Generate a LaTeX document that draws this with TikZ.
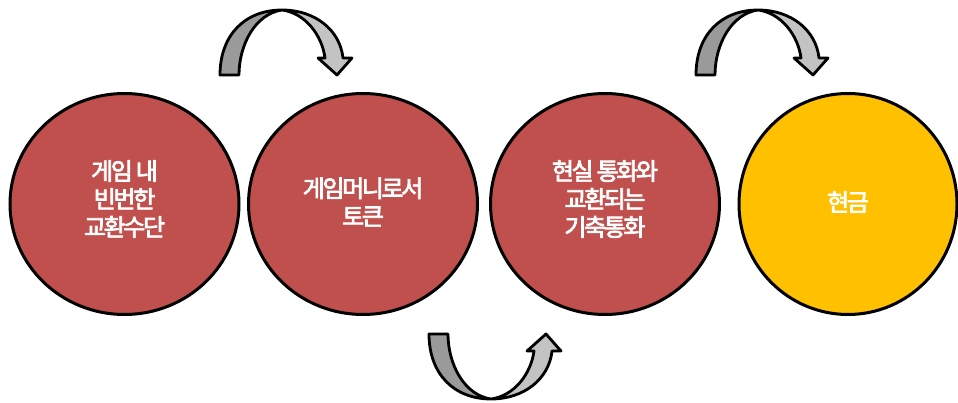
\documentclass[tikz,border=0pt]{standalone}
\usepackage{fontspec}
\usetikzlibrary{shapes.geometric}
\newfontfamily\kr[LetterSpace=-10,FakeBold=3]{Noto Sans CJK KR}
\definecolor{cred}{HTML}{C0504D}
\definecolor{cyel}{HTML}{FFC000}
\definecolor{adark}{HTML}{9A9A9A}
\definecolor{alight}{HTML}{C3C3C3}
\begin{document}
\begin{tikzpicture}[x=1pt,y=-1pt,
  bub/.style={draw=black,line width=3pt,ellipse,minimum width=229pt,minimum height=221pt,inner sep=0pt},
  btxt/.style={text=white,font=\kr\fontsize{24}{28}\selectfont,align=center},
  arr/.style={draw=black,line width=2.8pt,line join=round}]
\useasboundingbox (0,0) rectangle (958,403);
\node[bub,fill=cred] (c1) at (124.5,204) {};
\node[bub,fill=cred] (c2) at (363,204) {};
\node[bub,fill=cred] (c3) at (605,204) {};
\node[bub,fill=cyel,minimum width=218pt] (c4) at (848,204) {};
\node[btxt] (t1) at (124.5,199) {게임 내\\빈번한\\교환수단};
\node[btxt] (t2) at (363,202) {게임머니로서\\토큰};
\node[btxt] (t3) at (605,199) {현실 통화와\\교환되는\\기축통화};
\node[btxt] (t4) at (848,202) {현금};
\newcommand\toparrow[1]{%
\begin{scope}[shift={(#1,0)}]
\fill[alight] (282,10) .. controls (315,10) and (340,30) .. (343,58) -- (352,58) -- (337,75) -- (318,58) -- (325,58) .. controls (322,35) and (305,13) .. (282,10) -- cycle;
\fill[adark] (220,75) .. controls (220,35) and (245,10) .. (282,10) .. controls (255,14) and (239,45) .. (239,75) -- cycle;
\draw[arr] (220,75) .. controls (220,35) and (245,10) .. (282,10) .. controls (315,10) and (340,30) .. (343,58) -- (352,58) -- (337,75) -- (318,58) -- (325,58) .. controls (322,35) and (305,13) .. (282,10) .. controls (255,14) and (239,45) .. (239,75) -- cycle;
\end{scope}}
\toparrow{0}
\toparrow{476}
\begin{scope}[shift={(209,409)},yscale=-1]
\fill[alight] (282,10) .. controls (315,10) and (340,30) .. (343,58) -- (352,58) -- (337,75) -- (318,58) -- (325,58) .. controls (322,35) and (305,13) .. (282,10) -- cycle;
\fill[adark] (220,75) .. controls (220,35) and (245,10) .. (282,10) .. controls (255,14) and (239,45) .. (239,75) -- cycle;
\draw[arr] (220,75) .. controls (220,35) and (245,10) .. (282,10) .. controls (315,10) and (340,30) .. (343,58) -- (352,58) -- (337,75) -- (318,58) -- (325,58) .. controls (322,35) and (305,13) .. (282,10) .. controls (255,14) and (239,45) .. (239,75) -- cycle;
\end{scope}
\end{tikzpicture}
\end{document}
